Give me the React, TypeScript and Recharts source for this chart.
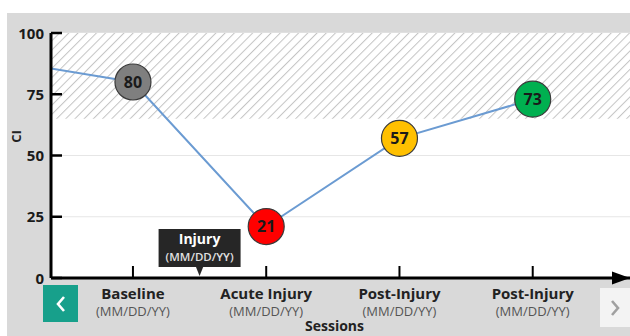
import React from 'react';
import { ComposedChart, Line, XAxis, YAxis, CartesianGrid, ReferenceArea, ReferenceDot } from 'recharts';

// ---- data ----
const sessionIndex = [0, 1, 2, 3, 4];
const sessionNames = ['Earlier', 'Baseline', 'Acute Injury', 'Post-Injury', 'Post-Injury'];
const sessionDates = ['(MM/DD/YY)', '(MM/DD/YY)', '(MM/DD/YY)', '(MM/DD/YY)', '(MM/DD/YY)'];
const ciValues = [89, 80, 21, 57, 73];
const pointColors = ['#7f7f7f', '#7f7f7f', '#ff0000', '#ffc000', '#00b050'];
const xTicks = [1, 2, 3, 4];
const yTicks = [0, 25, 50, 75, 100];
const xDomain: [number, number] = [0.385, 4.73];
const normalRange = [65, 100];
const injuryAt = 1.5;
const injuryLabel = 'Injury';
const injuryDate = '(MM/DD/YY)';
const xTitle = 'Sessions';
const yTitle = 'CI';

const data = sessionIndex.map((s, i) => ({ s, ci: ciValues[i], color: pointColors[i] }));

const FONT = '"Open Sans", "DejaVu Sans", sans-serif';

const Dot = (props: any) => {
  const { cx, cy, index, payload } = props;
  if (index === 0 || cx == null) return <g key={`d${index}`} />;
  return (
    <g key={`d${index}`}>
      <circle cx={cx} cy={cy} r={18} fill={payload.color} stroke="#3a3a3a" strokeWidth={1.2} />
      <text x={cx} y={cy + 5.5} textAnchor="middle" fontFamily={FONT} fontSize={16} fontWeight={700} fill="#1a1a1a">
        {payload.ci}
      </text>
    </g>
  );
};

const XTick = (props: any) => {
  const { x, y, payload } = props;
  const i = sessionIndex.indexOf(payload.value);
  return (
    <g>
      <line x1={x} x2={x} y1={y - 12} y2={y} stroke="#000" strokeWidth={2} />
      <text x={x} y={y + 21} textAnchor="middle" fontFamily={FONT} fontSize={15} fontWeight={700} fill="#222">
        {sessionNames[i]}
      </text>
      <text x={x} y={y + 38} textAnchor="middle" fontFamily={FONT} fontSize={13} fill="#555">
        {sessionDates[i]}
      </text>
    </g>
  );
};

const YTick = (props: any) => {
  const { x, y, payload } = props;
  return (
    <g>
      <line x1={x} x2={x + 11} y1={y} y2={y} stroke="#000" strokeWidth={2.5} />
      <text x={x - 7} y={y + 5.5} textAnchor="end" fontFamily={FONT} fontSize={15} fontWeight={700} fill="#1a1a1a">
        {payload.value}
      </text>
    </g>
  );
};

const Chevron = ({ dir, color }: { dir: 'left' | 'right'; color: string }) => (
  <svg width={12} height={18} viewBox="0 0 12 18">
    <polyline
      points={dir === 'left' ? '9,2 3,9 9,16' : '3,2 9,9 3,16'}
      fill="none"
      stroke={color}
      strokeWidth={2.6}
    />
  </svg>
);

export default function App() {
  return (
    <div style={{ position: 'absolute', left: 0, top: 0, width: 630, height: 336, overflow: 'hidden', background: '#fff' }}>
      <div style={{ position: 'absolute', left: 7, top: 13, width: 623, height: 323, background: '#d9d9d9' }} />
      <svg width={0} height={0} style={{ position: 'absolute' }}>
        <defs>
          <pattern id="hatch" patternUnits="userSpaceOnUse" width={6.5} height={6.5} patternTransform="rotate(45)">
            <rect width={6.5} height={6.5} fill="#ffffff" />
            <line x1={0} y1={0} x2={0} y2={6.5} stroke="#c4c4c4" strokeWidth={2} />
          </pattern>
        </defs>
      </svg>
      <div style={{ position: 'absolute', left: 0, top: 0 }}>
        <ComposedChart width={630} height={336} data={data} margin={{ top: 33, right: 0, bottom: 0, left: 0 }}>
          <CartesianGrid vertical={false} stroke="#e6e6e6" fill="#ffffff" />
          <ReferenceArea y1={normalRange[0]} y2={normalRange[1]} fill="url(#hatch)" fillOpacity={1} stroke="none" />
          <XAxis
            type="number"
            dataKey="s"
            domain={xDomain}
            allowDataOverflow
            ticks={xTicks}
            interval={0}
            height={58}
            tickSize={0}
            tickMargin={0}
            tickLine={false}
            axisLine={{ stroke: '#000', strokeWidth: 3 }}
            tick={<XTick />}
            label={(p: any) => {
              const vb = p.viewBox;
              return (
                <text x={vb.x + vb.width / 2 - 6} y={vb.y + 53} textAnchor="middle" fontFamily={FONT} fontSize={14} fontWeight={700} fill="#222">
                  {xTitle}
                </text>
              );
            }}
          />
          <YAxis
            type="number"
            domain={[0, 100]}
            ticks={yTicks}
            width={51}
            tickSize={0}
            tickMargin={0}
            tickLine={false}
            axisLine={{ stroke: '#000', strokeWidth: 3 }}
            tick={<YTick />}
            label={(p: any) => {
              const vb = p.viewBox;
              const cx = vb.x + 16;
              const cy = vb.y + vb.height / 2 - 19;
              return (
                <text x={cx} y={cy} transform={`rotate(-90 ${cx} ${cy})`} textAnchor="middle" dominantBaseline="central" fontFamily={FONT} fontSize={13} fontWeight={700} fill="#222">
                  {yTitle}
                </text>
              );
            }}
          />
          <Line
            type="linear"
            dataKey="ci"
            stroke="#6b9bd2"
            strokeWidth={2}
            dot={Dot}
            activeDot={false}
            isAnimationActive={false}
          />
          <ReferenceDot
            x={injuryAt}
            y={0}
            ifOverflow="visible"
            shape={(p: any) => {
              const { cx, cy } = p;
              return (
                <g>
                  <polygon points={`${cx - 4},${cy - 12} ${cx + 4},${cy - 12} ${cx},${cy - 2}`} fill="#262626" />
                  <rect x={cx - 41} y={cy - 49} width={82} height={38} fill="#262626" />
                  <text x={cx} y={cy - 34} textAnchor="middle" fontFamily={FONT} fontSize={14} fontWeight={700} fill="#fff">
                    {injuryLabel}
                  </text>
                  <text x={cx} y={cy - 17} textAnchor="middle" fontFamily={FONT} fontSize={11.5} fontWeight={600} fill="#e0e0e0">
                    {injuryDate}
                  </text>
                </g>
              );
            }}
          />
          <ReferenceDot
            x={xDomain[1]}
            y={0}
            ifOverflow="visible"
            shape={(p: any) => {
              const { cx, cy } = p;
              return <polygon points={`${cx},${cy} ${cx - 18},${cy - 6.5} ${cx - 18},${cy + 6.5}`} fill="#000" />;
            }}
          />
        </ComposedChart>
      </div>
      <div style={{ position: 'absolute', left: 43, top: 285, width: 35, height: 37, background: '#17a08b', display: 'flex', alignItems: 'center', justifyContent: 'center' }}>
        <Chevron dir="left" color="#ffffff" />
      </div>
      <div style={{ position: 'absolute', left: 600, top: 288, width: 30, height: 39, background: '#f3f3f3', display: 'flex', alignItems: 'center', justifyContent: 'center' }}>
        <Chevron dir="right" color="#a0a0a0" />
      </div>
    </div>
  );
}
